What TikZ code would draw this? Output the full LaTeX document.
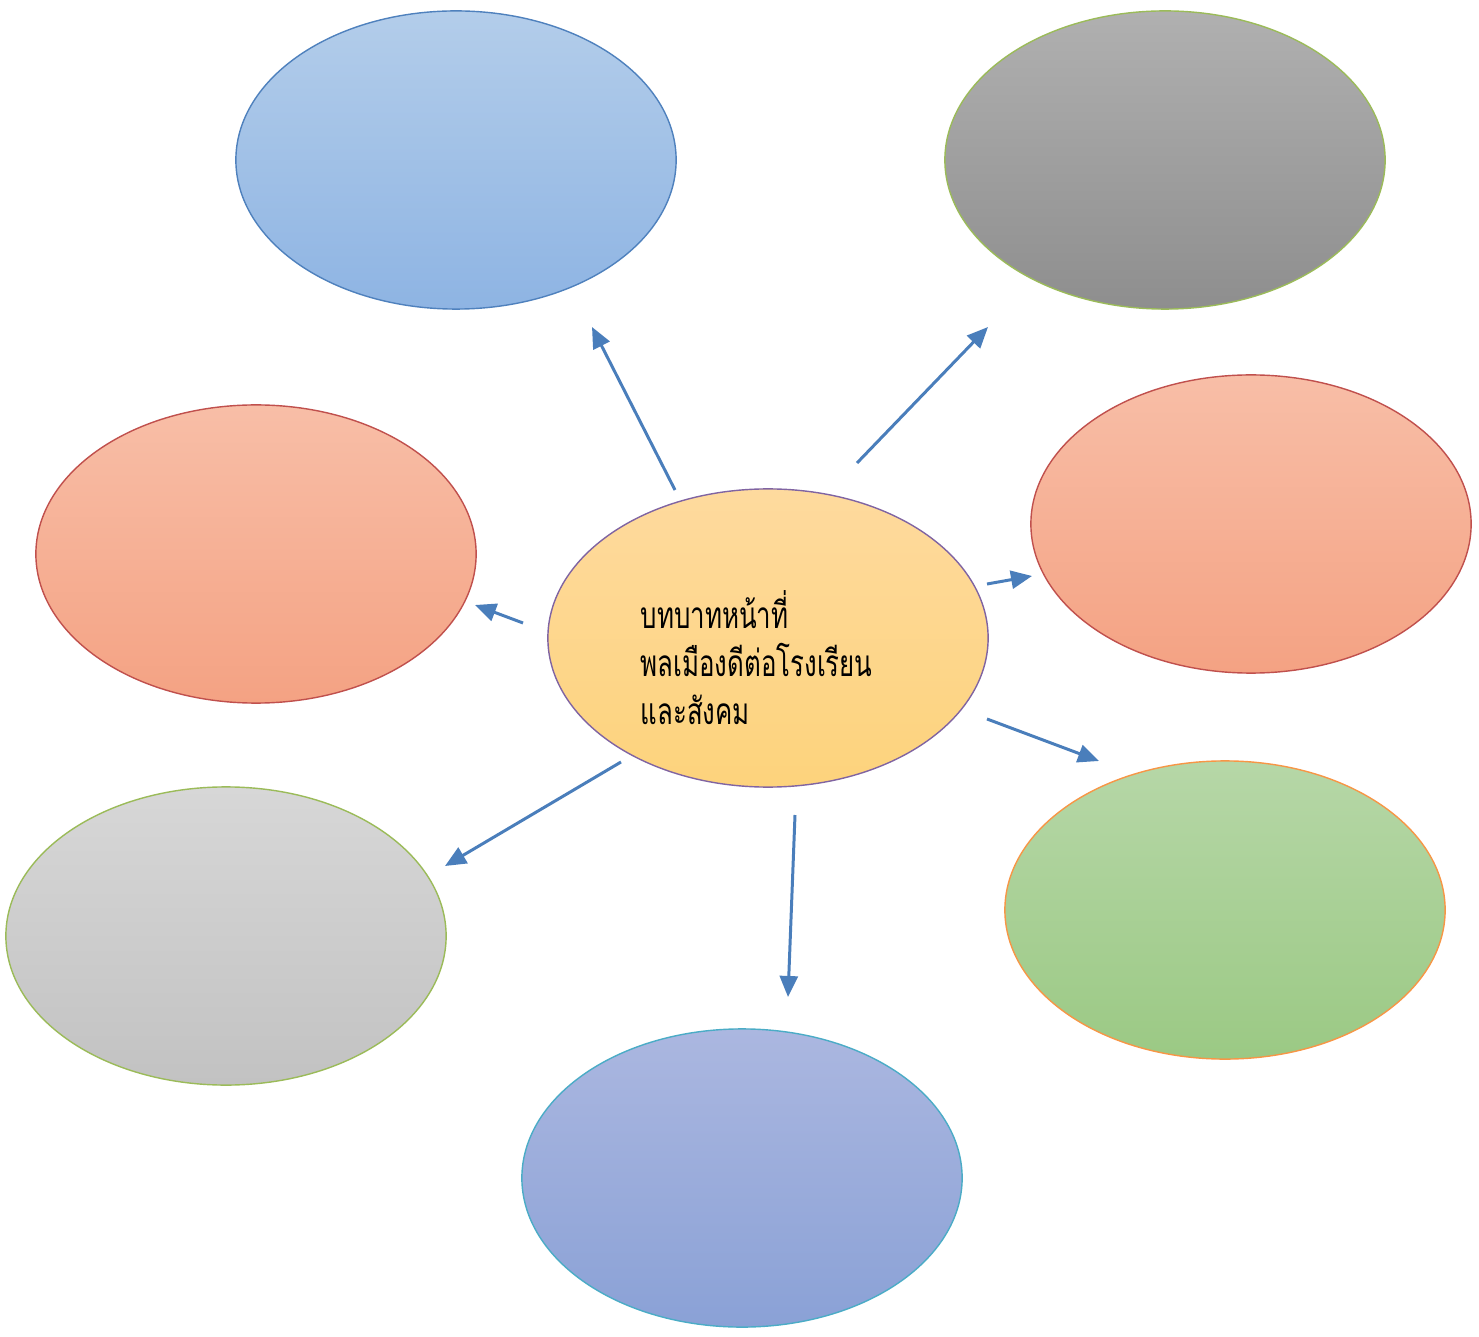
\documentclass[tikz,border=0pt]{standalone}
\usepackage{fontspec}
\newfontfamily\thaifont[Script=Thai,FakeStretch=0.70]{Loma}
\usetikzlibrary{shapes.geometric,arrows.meta}
\definecolor{arrowc}{HTML}{4A7EBB}
\definecolor{bluetop}{HTML}{B3CDEA}\definecolor{bluebot}{HTML}{8EB4E3}\definecolor{blueline}{HTML}{4F81BD}
\definecolor{graytop}{HTML}{B0B0B0}\definecolor{graybot}{HTML}{8E8E8E}\definecolor{greenline}{HTML}{9BBB59}
\definecolor{orgtop}{HTML}{F8BEA7}\definecolor{orgbot}{HTML}{F4A283}\definecolor{redline}{HTML}{C0504D}
\definecolor{yeltop}{HTML}{FEDA9E}\definecolor{yelbot}{HTML}{FDD37C}\definecolor{purpline}{HTML}{8064A2}
\definecolor{lgtop}{HTML}{D7D7D7}\definecolor{lgbot}{HTML}{C2C2C2}
\definecolor{grntop}{HTML}{B6D7A7}\definecolor{grnbot}{HTML}{9BC984}\definecolor{orangeline}{HTML}{F79646}
\definecolor{bbtop}{HTML}{ABB7E0}\definecolor{bbbot}{HTML}{8AA1D6}\definecolor{tealline}{HTML}{4BACC6}
\tikzset{
  oval/.style={ellipse, minimum width=4.4cm, minimum height=2.98cm, inner sep=0pt, line width=0.4pt},
  conn/.style={arrowc, line width=0.85pt, -{Triangle[length=0.21cm,width=0.18cm]}},
}
\begin{document}
\begin{tikzpicture}[x=0.01cm,y=-0.01cm]
\useasboundingbox (0,0) rectangle (1479,1337);
\node[oval, draw=blueline, top color=bluetop, bottom color=bluebot] (tl) at (456,160) {};
\node[oval, draw=greenline, top color=graytop, bottom color=graybot] (tr) at (1165,160) {};
\node[oval, draw=redline, top color=orgtop, bottom color=orgbot] (ml) at (256,554) {};
\node[oval, draw=redline, top color=orgtop, bottom color=orgbot] (mr) at (1251,524) {};
\node[oval, draw=purpline, top color=yeltop, bottom color=yelbot] (c) at (768,638) {};
\node[oval, draw=greenline, top color=lgtop, bottom color=lgbot] (bl) at (226,936) {};
\node[oval, draw=orangeline, top color=grntop, bottom color=grnbot] (br) at (1225,910) {};
\node[oval, draw=tealline, top color=bbtop, bottom color=bbbot] (b) at (742,1178) {};
\node[anchor=north west, align=left, inner sep=0pt, font=\thaifont\fontsize{10.5pt}{13.6pt}\selectfont] (t) at (640,590) {บทบาทหน้าที่\\พลเมืองดีต่อโรงเรียน\\และสังคม};
\coordinate (a1s) at (675,490); \coordinate (a1e) at (592,327);
\coordinate (a2s) at (857,463); \coordinate (a2e) at (988,327);
\coordinate (a3s) at (523,623); \coordinate (a3e) at (475,605);
\coordinate (a4s) at (987,584); \coordinate (a4e) at (1032,576);
\coordinate (a5s) at (621,762); \coordinate (a5e) at (445,866);
\coordinate (a6s) at (795,815); \coordinate (a6e) at (788,997);
\coordinate (a7s) at (987,719); \coordinate (a7e) at (1099,761);
\draw[conn] (a1s) -- (a1e);
\draw[conn] (a2s) -- (a2e);
\draw[conn] (a3s) -- (a3e);
\draw[conn] (a4s) -- (a4e);
\draw[conn] (a5s) -- (a5e);
\draw[conn] (a6s) -- (a6e);
\draw[conn] (a7s) -- (a7e);
\end{tikzpicture}
\end{document}
